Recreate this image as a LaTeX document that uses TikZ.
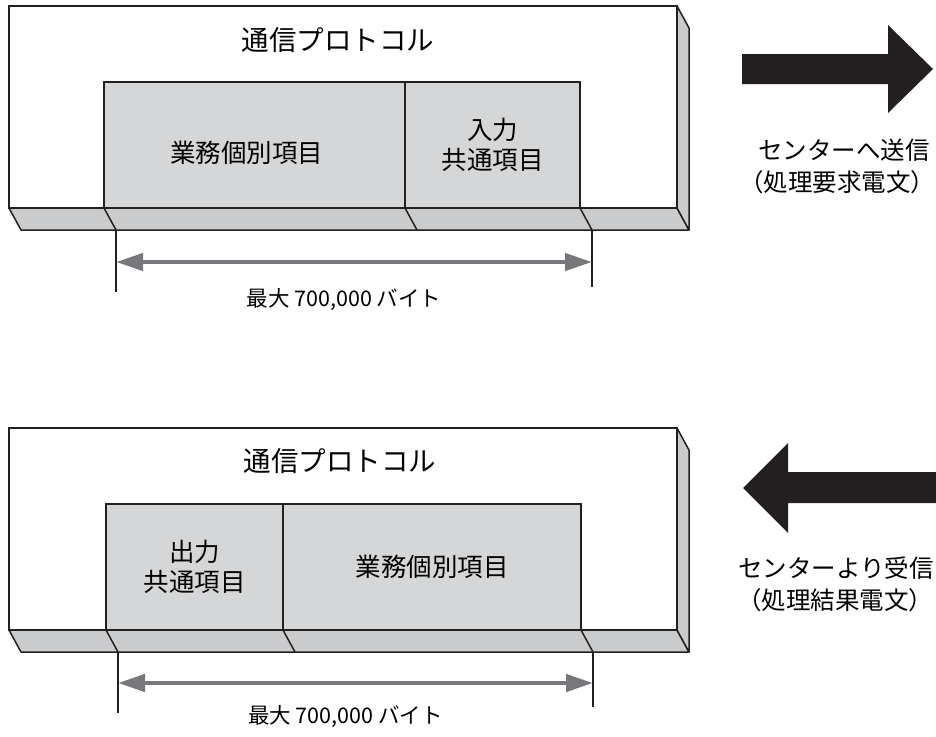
\documentclass[tikz,border=0pt]{standalone}
\usepackage{fontspec}
\setmainfont{Noto Sans CJK JP}
\usepackage{tikz}
\usetikzlibrary{arrows.meta,positioning,calc}

\definecolor{boxgray}{HTML}{D5D6D8}
\definecolor{depthgray}{HTML}{CACBCD}
\definecolor{dimgray}{HTML}{77787B}
\definecolor{inkblack}{HTML}{231F20}

\begin{document}
\begin{tikzpicture}[
    x=1pt, y=-1pt,
    node distance=0pt,
    frontface/.style={rectangle, draw=inkblack, fill=white, line width=1.8pt, outer sep=0pt, inner sep=0pt, anchor=north west, minimum width=668pt, minimum height=202pt},
    depthface/.style={draw=inkblack, fill=depthgray, line width=1.5pt, line join=round},
    fieldbox/.style={rectangle, draw=inkblack, fill=boxgray, line width=1.8pt, outer sep=0pt, inner sep=0pt, minimum height=126pt, text centered, align=center, font=\fontsize{25.5pt}{30pt}\selectfont},
    fieldtext/.style={inner sep=0pt, font=\fontsize{25.5pt}{30pt}\selectfont},
    seam/.style={draw=inkblack, line width=1.5pt},
    titletext/.style={inner sep=0pt, font=\fontsize{27.5pt}{32pt}\selectfont},
    dimline/.style={draw=inkblack, line width=1.2pt},
    dimarrow/.style={draw=dimgray, line width=4.5pt, {Triangle[length=27pt,width=17pt]}-{Triangle[length=27pt,width=17pt]}},
    sizetext/.style={inner sep=0pt, font=\fontsize{21.5pt}{24pt}\selectfont},
    sidetext/.style={inner sep=0pt, font=\fontsize{24.5pt}{32pt}\selectfont},
    bigarrow/.style={fill=inkblack}
]
    \useasboundingbox (0,0) rectangle (936,736);

    % request telegram
    \node[frontface] (frame1) at (9,6) {};
    \filldraw[depthface] (frame1.south west) -- (frame1.south east) -- ++(12,22) -- ($(frame1.south west)+(12,22)$) -- cycle;
    \filldraw[depthface] (frame1.north east) -- ++(12,22) -- ($(frame1.south east)+(12,22)$) -- (frame1.south east) -- cycle;
    \node[titletext] (title1) at (338,40) {通信プロトコル};
    \node[fieldbox, minimum width=301pt, anchor=south west] (biz1) at (104,208) {};
    \node[fieldbox, minimum width=175pt, right=of biz1] (in1) {入力\\共通項目};
    \node[fieldtext] (biz1text) at ($(biz1.center)+(-8,8)$) {業務個別項目};
    \foreach \c in {biz1.south west, biz1.south east, in1.south east}
        \draw[seam] (\c) -- ++(12,22);

    \coordinate (dimL1) at ($(biz1.south west)+(12,22)$);
    \coordinate (dimR1) at ($(in1.south east)+(12,22)$);
    \draw[dimline] (dimL1) -- ++(0,62);
    \draw[dimline] (dimR1) -- ++(0,57);
    \draw[dimarrow] ($(dimL1)+(0,32)$) -- ($(dimR1)+(0,32)$);
    \node[sizetext] (size1) at ($(dimL1)!0.5!(dimR1)+(-10,70)$) {最大 700,000 バイト};

    \fill[bigarrow] (742,54) -- (888,54) -- (888,25) -- (933,69) -- (888,113) -- (888,84) -- (742,84) -- cycle;
    \node[sidetext] (send) at (844,150) {センターへ送信};
    \node[sidetext] (sendnote) at (837,182) {（処理要求電文）};

    % result telegram
    \node[frontface] (frame2) at (9,428) {};
    \filldraw[depthface] (frame2.south west) -- (frame2.south east) -- ++(12,22) -- ($(frame2.south west)+(12,22)$) -- cycle;
    \filldraw[depthface] (frame2.north east) -- ++(12,22) -- ($(frame2.south east)+(12,22)$) -- (frame2.south east) -- cycle;
    \node[titletext] (title2) at (340,461) {通信プロトコル};
    \node[fieldbox, minimum width=177pt, anchor=south west] (out2) at (106,630) {出力\\共通項目};
    \node[fieldbox, minimum width=298pt, right=of out2] (biz2) {業務個別項目};
    \foreach \c in {out2.south west, out2.south east, biz2.south east}
        \draw[seam] (\c) -- ++(12,22);

    \coordinate (dimL2) at ($(out2.south west)+(12,22)$);
    \coordinate (dimR2) at ($(biz2.south east)+(12,22)$);
    \draw[dimline] (dimL2) -- ++(0,61);
    \draw[dimline] (dimR2) -- ++(0,55);
    \draw[dimarrow] ($(dimL2)+(0,31)$) -- ($(dimR2)+(0,31)$);
    \node[sizetext] (size2) at ($(dimL2)!0.5!(dimR2)+(-10,65)$) {最大 700,000 バイト};

    \fill[bigarrow] (936,472) -- (788,472) -- (788,443) -- (743,488) -- (788,533) -- (788,503) -- (936,503) -- cycle;
    \node[sidetext] (receive) at (836,568) {センターより受信};
    \node[sidetext] (receivenote) at (835,600) {（処理結果電文）};
\end{tikzpicture}
\end{document}
